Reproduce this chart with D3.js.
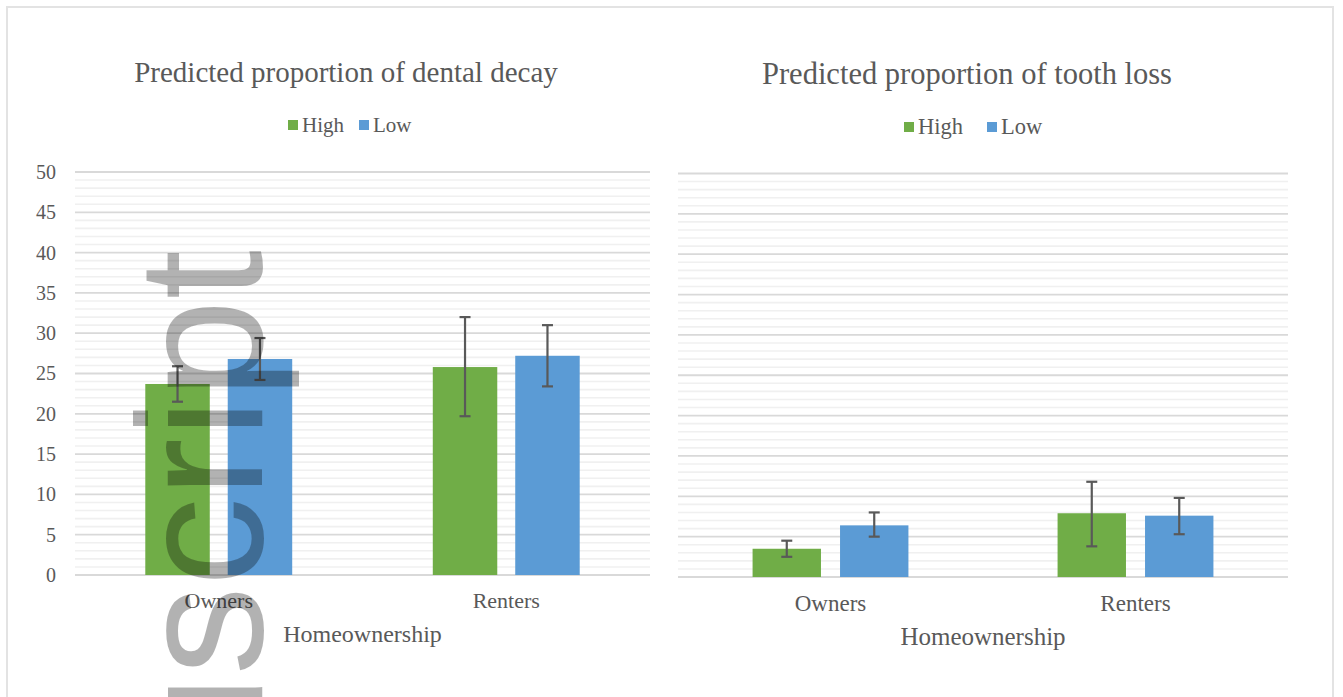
<!DOCTYPE html>
<html>
<head>
<meta charset="utf-8">
<script src="https://cdn.jsdelivr.net/npm/d3@7"></script>
<style>
  body { margin: 0; background: #fff; }
  svg text { font-family: "Liberation Serif", "Times New Roman", serif; fill: #595959; }
</style>
</head>
<body>
<svg id="svg1" width="1343" height="697"></svg>
<script>
const categories = ["Owners", "Renters"];
const groups = ["High", "Low"];
const yTicks = [0, 5, 10, 15, 20, 25, 30, 35, 40, 45, 50];

// dental decay: bar value and error bar [low, high]
const decayHigh = [23.7, 25.8];
const decayHighErr = [[21.5, 25.9], [19.7, 32.0]];
const decayLow = [26.8, 27.2];
const decayLowErr = [[24.2, 29.4], [23.4, 31.0]];

// tooth loss
const lossHigh = [3.5, 7.9];
const lossHighErr = [[2.5, 4.5], [3.8, 11.8]];
const lossLow = [6.4, 7.6];
const lossLowErr = [[5.0, 8.0], [5.3, 9.8]];

const colors = { High: "#70ad47", Low: "#5b9bd5" };

const svg = d3.select("svg#svg1");

// outer frame
svg.append("rect")
    .attr("x", 7).attr("y", 7)
    .attr("width", 1326).attr("height", 740)
    .attr("fill", "none")
    .attr("stroke", "#e3e3e3")
    .attr("stroke-width", 2);

function buildRows(high, highErr, low, lowErr) {
    let rows = [];
    categories.forEach((c, i) => {
        rows.push({ cat: c, group: "High", value: high[i], lo: highErr[i][0], hi: highErr[i][1] });
        rows.push({ cat: c, group: "Low", value: low[i], lo: lowErr[i][0], hi: lowErr[i][1] });
    });
    return rows;
}

function drawPanel(p) {
    const g = svg.append("g");

    const x = d3.scaleBand().domain(categories).range([p.left, p.right])
        .paddingInner(0.489).paddingOuter(0.2445);
    const xs = d3.scaleBand().domain(groups).range([0, x.bandwidth()])
        .paddingInner(0.218);
    const y = d3.scaleLinear().domain([0, 50]).range([p.bottom, p.top]);

    // minor gridlines
    g.append("g").selectAll("line")
        .data(d3.range(0, 51).filter(v => v % 5 !== 0))
        .join("line")
        .attr("x1", p.left).attr("x2", p.right)
        .attr("y1", d => y(d)).attr("y2", d => y(d))
        .attr("stroke", "#f0f0f0").attr("stroke-width", 1.6);

    // major gridlines
    g.append("g").selectAll("line")
        .data(yTicks)
        .join("line")
        .attr("x1", p.left).attr("x2", p.right)
        .attr("y1", d => y(d)).attr("y2", d => y(d))
        .attr("stroke", "#d9d9d9").attr("stroke-width", 1.8);

    if (p.showTicks) {
        let leftAxis = d3.axisLeft(y).tickValues(yTicks).tickSize(0).tickPadding(0);
        let ax = g.append("g")
            .attr("transform", `translate(${p.left - 19},0)`)
            .call(leftAxis);
        ax.select(".domain").remove();
        ax.selectAll("text")
            .style("font-family", "Liberation Serif")
            .style("font-size", "20px")
            .attr("fill", "#595959");
    }

    const rows = buildRows(p.high, p.highErr, p.low, p.lowErr);

    g.append("g").selectAll("rect")
        .data(rows)
        .join("rect")
        .attr("x", d => x(d.cat) + xs(d.group))
        .attr("width", xs.bandwidth())
        .attr("y", d => y(d.value))
        .attr("height", d => y(0) - y(d.value))
        .attr("fill", d => colors[d.group]);

    // error bars
    const eb = g.append("g").attr("stroke", "#595959").attr("stroke-width", 2.2);
    const cx = d => x(d.cat) + xs(d.group) + xs.bandwidth() / 2;
    eb.selectAll("line.v").data(rows).join("line").attr("class", "v")
        .attr("x1", cx).attr("x2", cx)
        .attr("y1", d => y(d.lo)).attr("y2", d => y(d.hi));
    eb.selectAll("line.t").data(rows).join("line").attr("class", "t")
        .attr("x1", d => cx(d) - 5.5).attr("x2", d => cx(d) + 5.5)
        .attr("y1", d => y(d.hi)).attr("y2", d => y(d.hi));
    eb.selectAll("line.b").data(rows).join("line").attr("class", "b")
        .attr("x1", d => cx(d) - 5.5).attr("x2", d => cx(d) + 5.5)
        .attr("y1", d => y(d.lo)).attr("y2", d => y(d.lo));

    // category labels
    g.append("g").selectAll("text")
        .data(categories)
        .join("text")
        .attr("x", d => x(d) + x.bandwidth() / 2)
        .attr("y", p.bottom + p.catDy)
        .attr("text-anchor", "middle")
        .style("font-size", p.catSize + "px")
        .text(d => d);

    // axis title
    g.append("text")
        .attr("x", (p.left + p.right) / 2)
        .attr("y", p.bottom + p.axisDy)
        .attr("text-anchor", "middle")
        .style("font-size", p.axisSize + "px")
        .text("Homeownership");

    // chart title
    g.append("text")
        .attr("x", p.titleX).attr("y", p.titleY)
        .attr("text-anchor", "middle")
        .style("font-size", p.titleSize + "px")
        .text(p.title);

    // legend
    const leg = g.append("g").attr("transform", `translate(${p.legendX},${p.legendY})`);
    groups.forEach((s, i) => {
        let item = leg.append("g").attr("transform", `translate(${i * p.legendStep},0)`);
        item.append("rect")
            .attr("x", 0).attr("y", -12)
            .attr("width", 10).attr("height", 10)
            .attr("fill", colors[s]);
        item.append("text")
            .attr("x", 14).attr("y", 0)
            .style("font-size", p.legendSize + "px")
            .text(s);
    });
}

drawPanel({
    left: 75, right: 650, top: 172, bottom: 575,
    showTicks: true,
    high: decayHigh, highErr: decayHighErr, low: decayLow, lowErr: decayLowErr,
    title: "Predicted proportion of dental decay",
    titleX: 346, titleY: 82, titleSize: 29,
    legendX: 288, legendY: 132, legendStep: 71, legendSize: 21,
    catDy: 33, catSize: 22,
    axisDy: 67, axisSize: 24
});

drawPanel({
    left: 678, right: 1288, top: 173.5, bottom: 577,
    showTicks: false,
    high: lossHigh, highErr: lossHighErr, low: lossLow, lowErr: lossLowErr,
    title: "Predicted proportion of tooth loss",
    titleX: 967, titleY: 84, titleSize: 30.5,
    legendX: 904, legendY: 134, legendStep: 83, legendSize: 22.5,
    catDy: 34, catSize: 23,
    axisDy: 68, axisSize: 25
});

// watermark, rotated
svg.append("text")
    .attr("transform", "translate(262,250) rotate(-90)")
    .attr("text-anchor", "end")
    .style("font-family", "Liberation Sans, Arial, sans-serif")
    .style("font-size", "178px")
    .style("fill", "#000")
    .style("fill-opacity", 0.3)
    .text("Author Manuscript");
</script>
</body>
</html>
